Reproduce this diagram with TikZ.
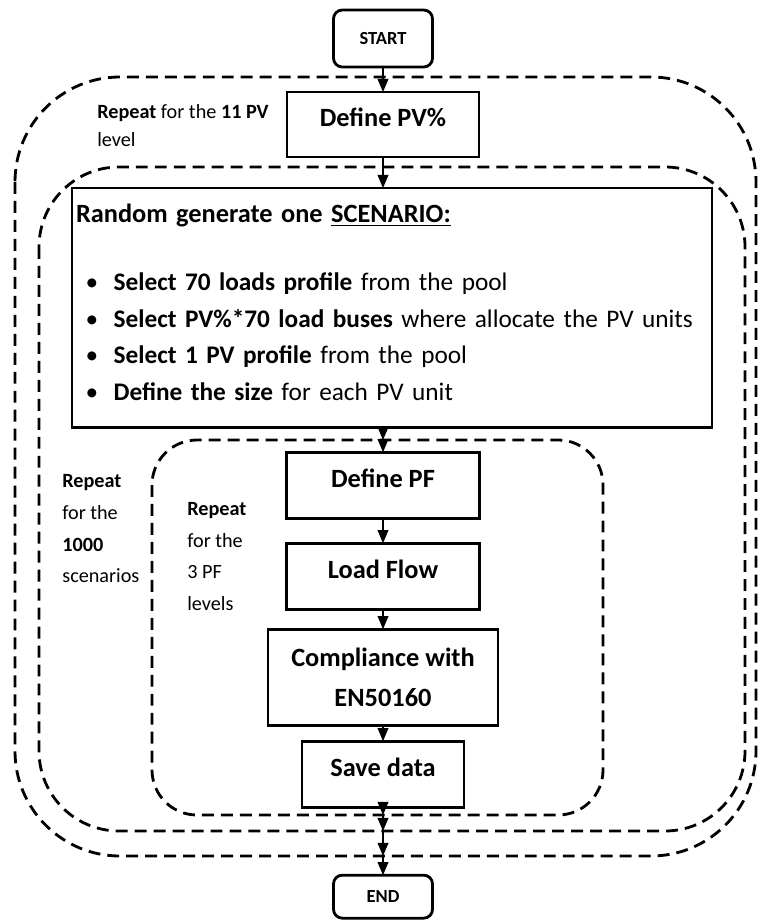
\documentclass[tikz,border=0pt]{standalone}
\usepackage{fontspec}
\setmainfont{Carlito}
\usetikzlibrary{arrows}
\usetikzlibrary{positioning}
\tikzstyle{every box} = [draw, black, line width=1.6pt, outer sep=0pt, font=\bfseries\fontsize{15}{22.7}\selectfont]
\tikzstyle{terminal} = [rectangle, rounded corners=5pt, minimum width=1.98cm, minimum height=1.14cm, every box, font=\bfseries\fontsize{10.5}{12}\selectfont]
\tikzstyle{process} = [rectangle, minimum width=3.86cm, minimum height=1.32cm, text height=0.38cm, text depth=0.3cm, every box]
\tikzstyle{scenario} = [rectangle, text width=12.64cm, align=left, inner xsep=0.08cm, inner ysep=0.18cm, every box, font=\fontsize{14.4}{20.8}\selectfont]
\tikzstyle{link} = [->, >=triangle 45, draw, line width=0.7pt]
\tikzstyle{loop} = [draw, black, line width=1.6pt, dash pattern=on 6.8pt off 4pt]
\tikzstyle{note} = [align=left, anchor=north west, inner sep=0pt]
\newcommand{\scenitem}[2]{\hspace*{0.19cm}\textbullet\hspace*{0.31cm}\mbox{\textbf{#1} #2}}

\begin{document}
\begin{tikzpicture}
  \useasboundingbox (0,0) rectangle (15.16,-18.4);
  \draw[loop, rounded corners=2.1cm] (0.30,-1.54) rectangle (15.12,-17.12);
  \draw[loop, rounded corners=1.6cm] (0.78,-3.34) rectangle (14.90,-16.62);
  \draw[loop, rounded corners=0.9cm] (3.04,-8.80) rectangle (12.06,-16.30);
  \node[terminal] (start) at (7.66,-0.77) {START};
  \node[process] (pv) [below=0.5cm of start, minimum width=3.84cm, minimum height=1.3cm] {Define PV\%};
  \node[scenario] (scen) [below=0.62cm of pv, xshift=0.18cm] {%
    {\fontsize{15}{20.8}\selectfont\bfseries\rule{0pt}{14.6pt}Random generate one \underline{SCENARIO:}}\\[17.8pt]
    \scenitem{Select 70 loads profile}{from the pool}\\
    \scenitem{Select PV\%*70 load buses}{where allocate the PV units}\\
    \scenitem{Select 1 PV profile}{from the pool}\\
    \scenitem{Define the size}{for each PV unit}\rule[-0.36cm]{0pt}{0pt}};
  \node[process] (pf) [below=0.5cm of scen, xshift=-0.18cm] {Define PF};
  \node[process] (lf) [below=0.5cm of pf] {Load Flow};
  \node[rectangle, every box, align=center, minimum width=4.6cm, minimum height=1.92cm] (comp) [below=0.4cm of lf] {Compliance with\\EN50160};
  \node[process] (save) [below=0.32cm of comp, minimum width=3.24cm] {Save data};
  \node[terminal] (end) [below=1.36cm of save, minimum height=0.86cm] {END};
  \coordinate (inTop) at (pf |- 0,-8.80);
  \coordinate (inBot) at (pf |- 0,-16.30);
  \coordinate (midBot) at (pf |- 0,-16.62);
  \coordinate (outBot) at (pf |- 0,-17.12);
  \draw[link] (start) -- (pv);
  \draw[link] (pv.south) -- (pv.south |- scen.north);
  \draw[link] (pv.south |- scen.south) -- (inTop);
  \draw[link] (inTop) -- (pf);
  \draw[link] (pf) -- (lf);
  \draw[link] (lf) -- (comp);
  \draw[link] (comp) -- (save);
  \draw[link] (save) -- (inBot);
  \draw[link] (inBot) -- (midBot);
  \draw[link] (midBot) -- (outBot);
  \draw[link] (outBot) -- (end);
  \node[note, font=\fontsize{11.5}{15.9}\selectfont] (pvnote) at (1.94,-2.08) {\textbf{Repeat} for the \textbf{11 PV}\\level};
  \node[note, font=\fontsize{11.5}{18}\selectfont] (scennote) at (1.24,-9.49) {\textbf{Repeat}\\for the\\\textbf{1000}\\scenarios};
  \node[note, font=\fontsize{11.5}{18}\selectfont] (pfnote) at (3.74,-10.04) {\textbf{Repeat}\\for the\\3 PF\\levels};
\end{tikzpicture}
\end{document}
